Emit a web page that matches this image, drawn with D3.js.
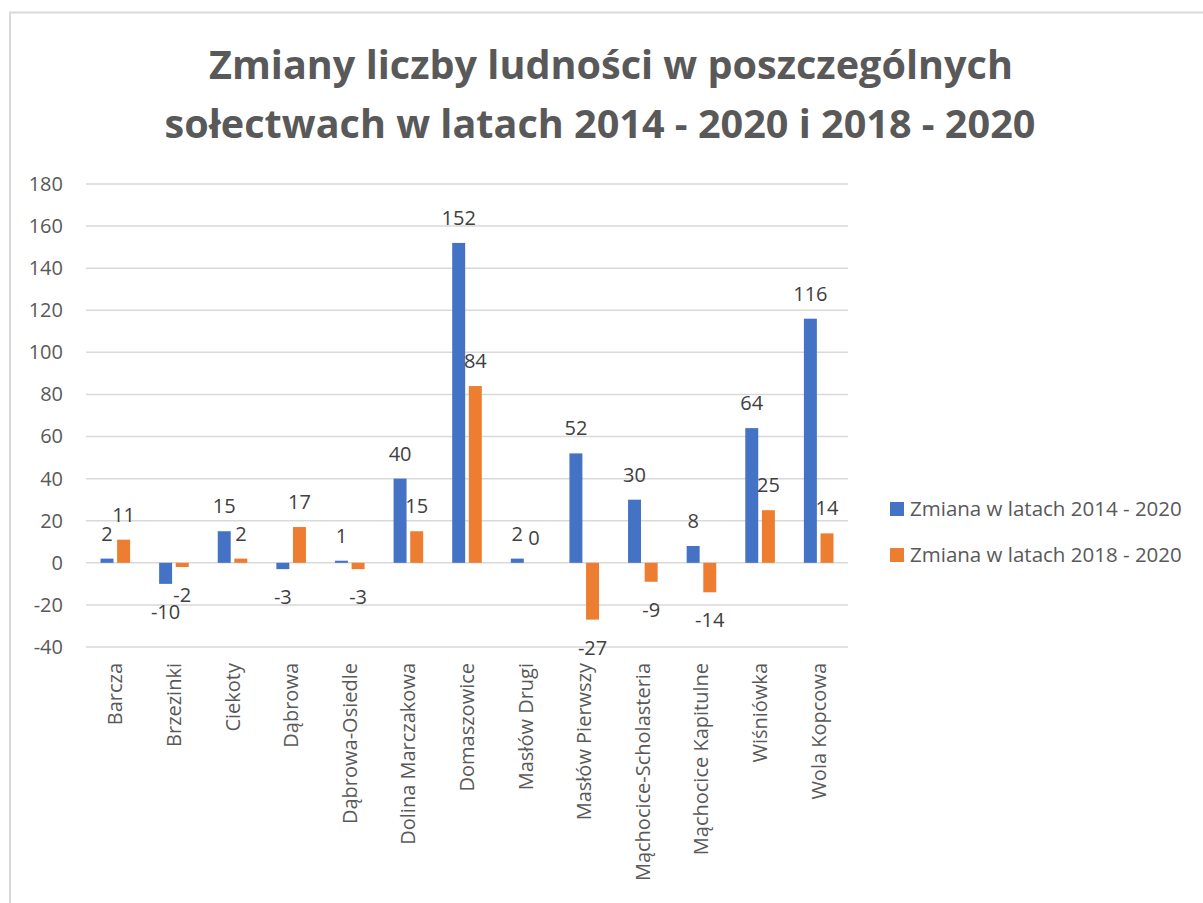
<!DOCTYPE html>
<html>
<head>
<meta charset="utf-8">
<script src="https://cdn.jsdelivr.net/npm/d3@7"></script>
<style>
  body { margin: 0; background: #fff; }
  svg { display: block; font-family: "Open Sans", sans-serif; }
</style>
</head>
<body>
<div id="chart"></div>
<script>
const categories = ["Barcza", "Brzezinki", "Ciekoty", "Dąbrowa", "Dąbrowa-Osiedle", "Dolina Marczakowa",
    "Domaszowice", "Masłów Drugi", "Masłów Pierwszy", "Mąchocice-Scholasteria", "Mąchocice Kapitulne",
    "Wiśniówka", "Wola Kopcowa"];
const seriesNames = ["Zmiana w latach 2014 - 2020", "Zmiana w latach 2018 - 2020"];
const change2014 = [2, -10, 15, -3, 1, 40, 152, 2, 52, 30, 8, 64, 116];
const change2018 = [11, -2, 2, 17, -3, 15, 84, 0, -27, -9, -14, 25, 14];
const yTicks = [-40, -20, 0, 20, 40, 60, 80, 100, 120, 140, 160, 180];
const colors = ["#4472C4", "#ED7D31"];

const W = 1203, H = 903;
const plot = { left: 86, right: 848, top: 184, bottom: 647 };

const svg = d3.select("#chart").append("svg")
    .attr("width", W)
    .attr("height", H);

// chart frame
svg.append("path")
    .attr("d", "M10," + (H + 5) + "V12.5H" + (W + 5))
    .attr("fill", "none")
    .attr("stroke", "#d9d9d9")
    .attr("stroke-width", 2);

// title
const title = svg.append("text")
    .attr("text-anchor", "middle")
    .style("font-size", "39.6px")
    .style("font-weight", "bold")
    .style("fill", "#595959");
title.append("tspan").attr("x", 611).attr("y", 79).text("Zmiany liczby ludności w poszczególnych");
title.append("tspan").attr("x", 600).attr("y", 138).text("sołectwach w latach 2014 - 2020 i 2018 - 2020");

const x0 = d3.scaleBand()
    .domain(categories)
    .range([plot.left, plot.right]);

const bw = x0.bandwidth();
const x1 = d3.scaleBand()
    .domain([0, 1])
    .range([bw / 2 - 14.8, bw / 2 + 14.8])
    .paddingInner(0.22);

const y = d3.scaleLinear()
    .domain([-40, 180])
    .range([plot.bottom, plot.top]);

// gridlines
svg.append("g")
    .selectAll("line")
    .data(yTicks)
    .join("line")
    .attr("x1", plot.left)
    .attr("x2", plot.right)
    .attr("y1", d => y(d))
    .attr("y2", d => y(d))
    .attr("stroke", "#d9d9d9")
    .attr("stroke-width", 1.5);

// y axis labels (plain hyphen for negatives, as in the original)
const yAxis = svg.append("g")
    .attr("transform", "translate(" + (plot.left - 23) + ",0)")
    .call(d3.axisLeft(y).tickValues(yTicks).tickFormat(d => String(d)).tickSize(0).tickPadding(0));
yAxis.select(".domain").remove();
yAxis.selectAll("text")
    .style("font-family", "Open Sans")
    .style("font-size", "20px")
    .style("fill", "#595959");

// category labels
const xAxis = svg.append("g")
    .attr("transform", "translate(0," + 663 + ")")
    .call(d3.axisBottom(x0).tickSize(0).tickPadding(0));
xAxis.select(".domain").remove();
xAxis.selectAll("text")
    .attr("transform", "translate(7,0) rotate(-90)")
    .attr("x", 0)
    .attr("y", 0)
    .attr("dy", null)
    .attr("text-anchor", "end")
    .style("font-family", "Open Sans")
    .style("font-size", "20px")
    .style("fill", "#595959");

const series = [change2014, change2018];
const rows = [];
categories.forEach((c, i) => {
    series.forEach((s, k) => rows.push({ cat: c, k: k, v: s[i] }));
});

// bars
svg.append("g")
    .selectAll("rect")
    .data(rows)
    .join("rect")
    .attr("x", d => x0(d.cat) + x1(d.k))
    .attr("width", x1.bandwidth())
    .attr("y", d => y(Math.max(0, d.v)))
    .attr("height", d => Math.abs(y(d.v) - y(0)))
    .attr("fill", d => colors[d.k]);

// value labels
svg.append("g")
    .selectAll("text")
    .data(rows)
    .join("text")
    .attr("text-anchor", "middle")
    .attr("x", d => x0(d.cat) + x1(d.k) + x1.bandwidth() / 2)
    .attr("y", d => d.v >= 0 ? y(d.v) - 18 : y(d.v) + 35)
    .style("font-size", "20px")
    .style("fill", "#404040")
    .text(d => d.v);

// legend
const legend = svg.append("g")
    .selectAll("g")
    .data(seriesNames)
    .join("g")
    .attr("transform", (d, i) => "translate(890," + (509 + i * 46) + ")");
legend.append("rect")
    .attr("x", 0)
    .attr("y", -7)
    .attr("width", 14)
    .attr("height", 14)
    .attr("fill", (d, i) => colors[i]);
legend.append("text")
    .attr("x", 20)
    .attr("y", 7)
    .style("font-size", "20.5px")
    .style("fill", "#595959")
    .text(d => d);
</script>
</body>
</html>
